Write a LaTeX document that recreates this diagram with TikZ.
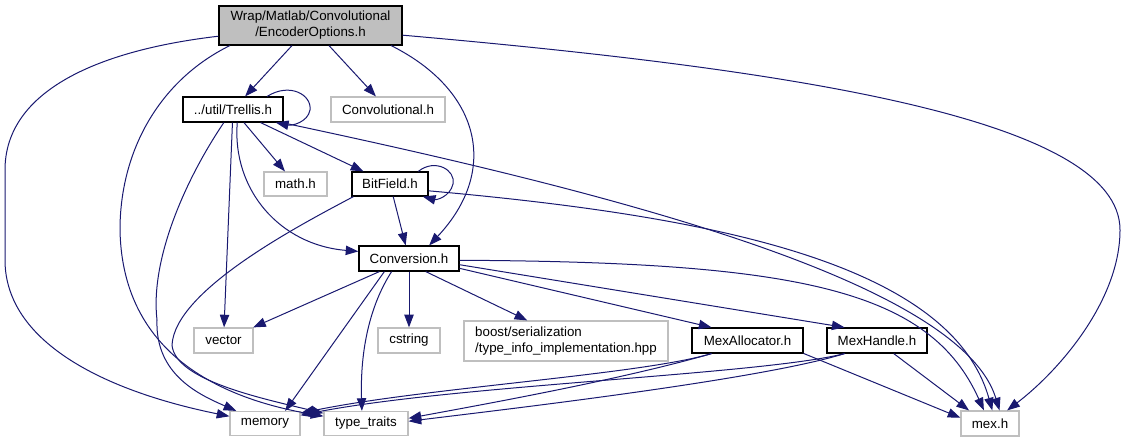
\documentclass[tikz,border=0pt]{standalone}
\usepackage{fontspec}
\setmainfont{Liberation Sans}
\usetikzlibrary{arrows.meta}
\definecolor{edgeblue}{HTML}{191970}
\definecolor{grayline}{HTML}{BFBFBF}
\begin{document}
\begin{tikzpicture}[x=0.75pt,y=-0.75pt,
  box/.style={draw=black,line width=0.9pt,fill=white,inner sep=0pt,minimum height=18.75pt,font=\fontsize{10}{12}\selectfont},
  ext/.style={box,draw=grayline},
  edge/.style={draw=edgeblue,line width=0.75pt,-{Triangle[length=9.5pt,width=7pt]}},
]
\useasboundingbox (0,0) rectangle (1123,443);

% nodes
\node[box,fill=grayline,minimum width=137.25pt,minimum height=29.25pt,align=center] (root) at (310.5,25.5) {Wrap/Matlab/Convolutional\\/EncoderOptions.h};
\node[box,minimum width=75pt] (trellis) at (233,109.5) {../util/Trellis.h};
\node[ext,minimum width=85.5pt] (conv1) at (388,109.5) {Convolutional.h};
\node[ext,minimum width=47.25pt,minimum height=18pt] (math) at (295.5,184) {math.h};
\node[box,minimum width=57pt,minimum height=18pt] (bitfield) at (390,184) {BitField.h};
\node[box,minimum width=75pt] (conversion) at (409,258.5) {Conversion.h};
\node[ext,minimum width=44.25pt] (vector) at (223.5,340.5) {vector};
\node[ext,minimum width=46.5pt] (cstring) at (409,340.5) {cstring};
\node[ext,minimum width=153pt,minimum height=30pt,align=left] (boost) at (566,341) {boost/serialization\\/type\_info\_implementation.hpp};
\node[box,minimum width=83.25pt] (mexalloc) at (747.5,340.5) {MexAllocator.h};
\node[box,minimum width=75pt] (mexhandle) at (877,340.5) {MexHandle.h};
\node[ext,minimum width=52.5pt,minimum height=18pt] (memory) at (265,423.5) {memory};
\node[ext,minimum width=63pt,minimum height=18pt] (typetraits) at (366,423.5) {type\_traits};
\node[ext,minimum width=43.5pt] (mexh) at (990,423.5) {mex.h};

% edges from root
\draw[edge] (root) -- (trellis);
\draw[edge] (root) -- (conv1);
\draw[edge] (root.-14.3) .. controls (480,90) and (500,170) .. (conversion.33.3);
\draw[edge] (root) .. controls (100,50) and (5,90) .. (5,170) -- (5,260) .. controls (5,340) and (100,390) .. (memory);
\draw[edge] (root.194.7) .. controls (160,80) and (120,150) .. (120,230) .. controls (122,340) and (200,395) .. (typetraits);
\draw[edge] (root.-6.5) .. controls (800,70) and (1120,120) .. (1120,230) .. controls (1120,300) and (1060,370) .. (mexh);

% edges from Trellis
\draw[edge] (trellis.21.3) .. controls (290,82) and (312,95) .. (310,110) .. controls (308,122) and (292,126) .. (trellis.-17.4);
\draw[edge] (trellis) -- (math);
\draw[edge] (trellis) -- (bitfield);
\draw[edge] (trellis) -- (vector);
\draw[edge] (trellis.-72.3) .. controls (232,190) and (280,245) .. (conversion.172.6);
\draw[edge] (trellis.-125.8) .. controls (185,180) and (150,260) .. (157,320) .. controls (155,375) and (200,395) .. (memory);
\draw[edge] (trellis.-15.5) .. controls (600,190) and (960,280) .. (mexh.54.2);

% edges from BitField
\draw[edge] (bitfield.24) .. controls (435,158) and (456,170) .. (453,184) .. controls (450,197) and (436,200) .. (bitfield.-21.8);
\draw[edge] (bitfield) -- (conversion);
\draw[edge] (bitfield.-161) .. controls (300,225) and (175,290) .. (172,345) .. controls (175,380) and (260,398) .. (typetraits);
\draw[edge] (bitfield.-10.4) .. controls (700,215) and (950,260) .. (mexh.80.9);

% edges from Conversion
\draw[edge] (conversion) -- (vector);
\draw[edge] (conversion.-152.5) -- (memory.32.6);
\draw[edge] (conversion.-143.7) .. controls (370,305) and (360,350) .. (typetraits.108.4);
\draw[edge] (conversion) -- (cstring);
\draw[edge] (conversion.-38) -- (boost.152.9);
\draw[edge] (conversion.-11.9) -- (mexalloc.160.6);
\draw[edge] (conversion.-7.4) -- (mexhandle.158.7);
\draw[edge] (conversion.-2.9) .. controls (800,262) and (930,290) .. (mexh.115.6);

% edges from MexAllocator
\draw[edge] (mexalloc.-160) .. controls (640,375) and (420,388) .. (memory.16.7);
\draw[edge] (mexalloc.-160) .. controls (620,380) and (480,405) .. (typetraits.7.5);
\draw[edge] (mexalloc.-13.4) -- (mexh.169.3);

% edges from MexHandle
\draw[edge] (mexhandle.-158.7) .. controls (760,375) and (450,385) .. (memory.13.7);
\draw[edge] (mexhandle.-158.7) .. controls (760,380) and (500,410) .. (typetraits.3.4);
\draw[edge] (mexhandle.-38) -- (mexh.148);
\end{tikzpicture}
\end{document}
